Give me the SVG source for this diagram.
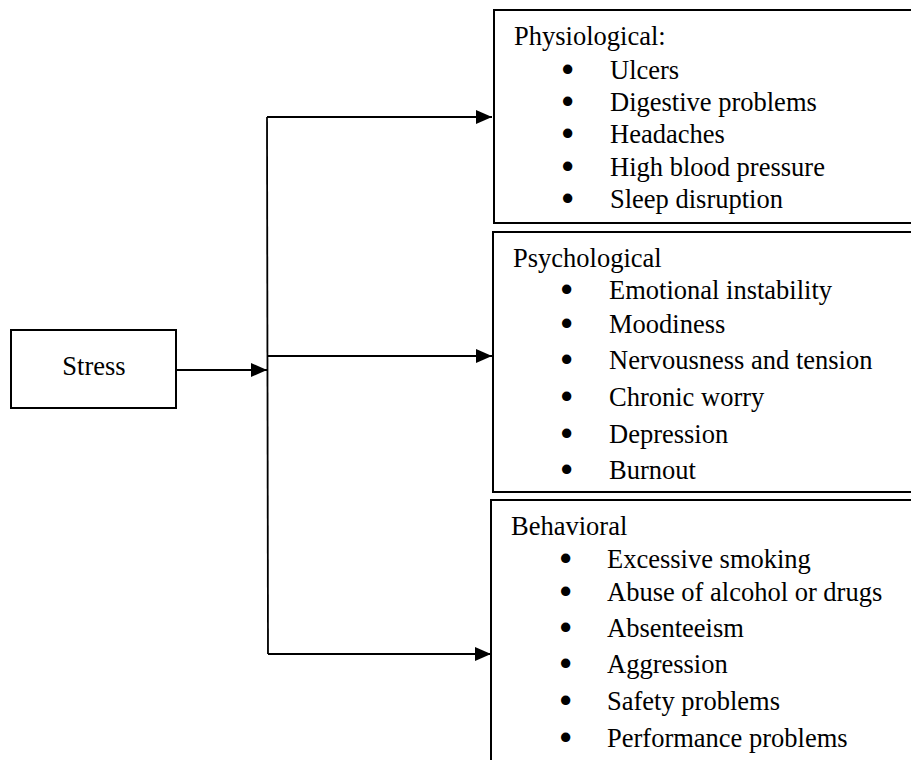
<svg xmlns="http://www.w3.org/2000/svg" width="911" height="760" viewBox="0 0 911 760">
<style>
.box{fill:#fff;stroke:#000;stroke-width:2}
.t{font-family:"Liberation Serif","Times New Roman",serif;font-size:26.5px;fill:#000}
.b{stroke:#000;stroke-width:3;stroke-linejoin:round}
.c{fill:none;stroke:#000;stroke-width:1.8}
</style>
<defs>
<marker id="ah" markerWidth="16" markerHeight="14" refX="16" refY="7" orient="auto" markerUnits="userSpaceOnUse">
<path d="M0,0 L16,7 L0,14 Z" fill="#000"/>
</marker>
</defs>
<rect width="911" height="760" fill="#fff"/>
<g id="connectors">
<line class="c" x1="176" y1="370" x2="267" y2="370" marker-end="url(#ah)"/>
<polyline class="c" points="267,117 268,654"/>
<line class="c" x1="267" y1="117" x2="492" y2="117" marker-end="url(#ah)"/>
<line class="c" x1="267" y1="356" x2="492" y2="356" marker-end="url(#ah)"/>
<line class="c" x1="268" y1="654" x2="491" y2="654" marker-end="url(#ah)"/>
</g>
<g id="stress">
<rect class="box" x="11" y="330" width="165" height="78"/>
<text class="t" x="94" y="375" text-anchor="middle" font-size="26">Stress</text>
</g>
<g id="physiological">
<rect class="box" x="494" y="10" width="430" height="213"/>
<text class="t" x="514" y="45">Physiological:</text>
<text class="t" x="563" y="79"><tspan class="b">•</tspan><tspan x="610">Ulcers</tspan></text>
<text class="t" x="563" y="111"><tspan class="b">•</tspan><tspan x="610">Digestive problems</tspan></text>
<text class="t" x="563" y="143"><tspan class="b">•</tspan><tspan x="610">Headaches</tspan></text>
<text class="t" x="563" y="176"><tspan class="b">•</tspan><tspan x="610">High blood pressure</tspan></text>
<text class="t" x="563" y="208"><tspan class="b">•</tspan><tspan x="610">Sleep disruption</tspan></text>
</g>
<g id="psychological">
<rect class="box" x="493" y="232" width="430" height="260"/>
<text class="t" x="513" y="267">Psychological</text>
<text class="t" x="562" y="299"><tspan class="b">•</tspan><tspan x="609">Emotional instability</tspan></text>
<text class="t" x="562" y="333"><tspan class="b">•</tspan><tspan x="609">Moodiness</tspan></text>
<text class="t" x="562" y="369"><tspan class="b">•</tspan><tspan x="609">Nervousness and tension</tspan></text>
<text class="t" x="562" y="406"><tspan class="b">•</tspan><tspan x="609">Chronic worry</tspan></text>
<text class="t" x="562" y="443"><tspan class="b">•</tspan><tspan x="609">Depression</tspan></text>
<text class="t" x="562" y="479"><tspan class="b">•</tspan><tspan x="609">Burnout</tspan></text>
</g>
<g id="behavioral">
<rect class="box" x="491" y="500" width="430" height="280"/>
<text class="t" x="511" y="535">Behavioral</text>
<text class="t" x="561" y="568"><tspan class="b">•</tspan><tspan x="607">Excessive smoking</tspan></text>
<text class="t" x="561" y="601"><tspan class="b">•</tspan><tspan x="607">Abuse of alcohol or drugs</tspan></text>
<text class="t" x="561" y="637"><tspan class="b">•</tspan><tspan x="607">Absenteeism</tspan></text>
<text class="t" x="561" y="673"><tspan class="b">•</tspan><tspan x="607">Aggression</tspan></text>
<text class="t" x="561" y="710"><tspan class="b">•</tspan><tspan x="607">Safety problems</tspan></text>
<text class="t" x="561" y="747"><tspan class="b">•</tspan><tspan x="607">Performance problems</tspan></text>
</g>
</svg>
